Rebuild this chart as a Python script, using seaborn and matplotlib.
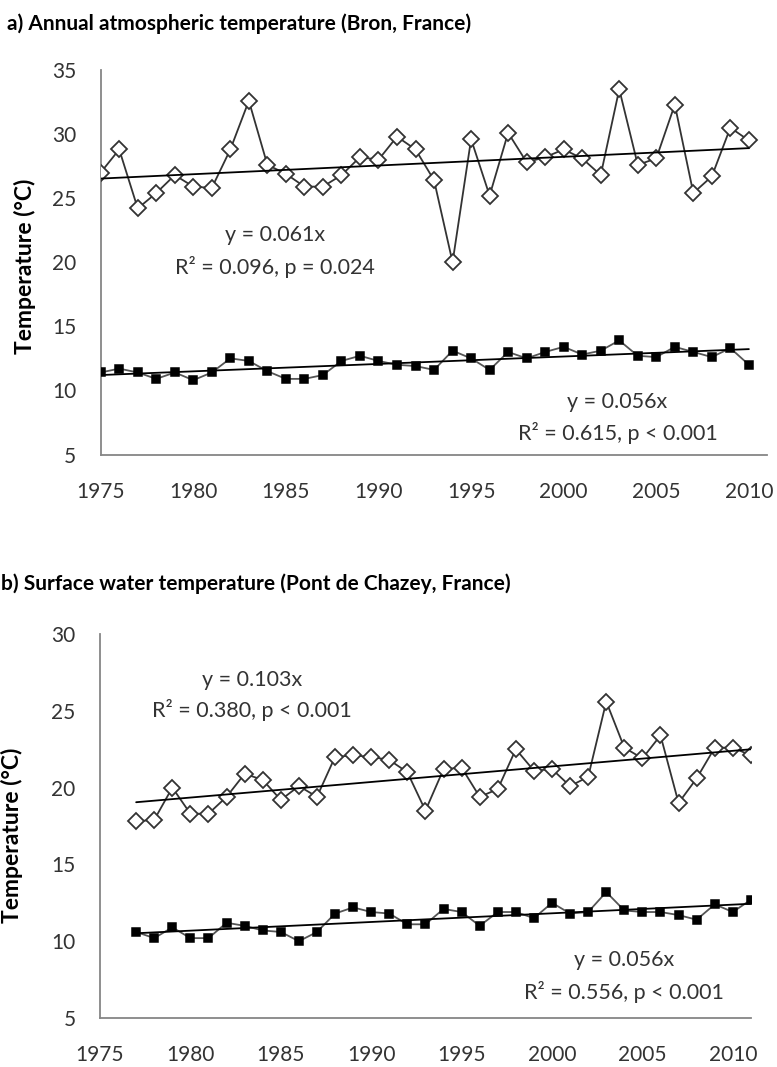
import numpy as np
import pandas as pd
import matplotlib
matplotlib.use("Agg")
import matplotlib.pyplot as plt
import seaborn as sns

# ---- data -------------------------------------------------------------
years_air = list(range(1975, 2011))
air_max = [27.0, 28.8, 24.2, 25.4, 26.8, 25.9, 25.8, 28.8, 32.6, 27.6,
           26.9, 25.9, 25.9, 26.8, 28.2, 28.0, 29.8, 28.8, 26.4, 20.0,
           29.6, 25.2, 30.1, 27.8, 28.2, 28.8, 28.1, 26.8, 33.5, 27.6,
           28.1, 32.3, 25.4, 26.7, 30.5, 29.5]
air_mean = [11.4, 11.7, 11.4, 10.9, 11.4, 10.8, 11.4, 12.5, 12.3, 11.5,
            10.9, 10.9, 11.2, 12.3, 12.7, 12.3, 12.0, 11.9, 11.6, 13.1,
            12.5, 11.6, 13.0, 12.5, 13.0, 13.4, 12.8, 13.1, 13.9, 12.7,
            12.6, 13.4, 13.0, 12.6, 13.3, 12.0]

years_water = list(range(1977, 2012))
water_max = [17.8, 17.9, 20.0, 18.3, 18.3, 19.4, 20.9, 20.5, 19.2, 20.1,
             19.4, 22.0, 22.1, 22.0, 21.8, 21.0, 18.5, 21.2, 21.3, 19.4,
             19.9, 22.5, 21.1, 21.2, 20.1, 20.7, 25.6, 22.6, 21.9, 23.4,
             19.0, 20.6, 22.6, 22.6, 22.1]
water_mean = [10.6, 10.2, 10.9, 10.2, 10.2, 11.2, 11.0, 10.7, 10.6, 10.0,
              10.6, 11.8, 12.2, 11.9, 11.8, 11.1, 11.1, 12.1, 11.9, 11.0,
              11.9, 11.9, 11.5, 12.5, 11.8, 11.9, 13.2, 12.0, 11.9, 11.9,
              11.7, 11.4, 12.4, 11.9, 12.7]

x_ticks = [1975, 1980, 1985, 1990, 1995, 2000, 2005, 2010]
y_ticks_air = [5, 10, 15, 20, 25, 30, 35]
y_ticks_water = [5, 10, 15, 20, 25, 30]

title_air = "a) Annual atmospheric temperature (Bron, France)"
title_water = "b) Surface water temperature (Pont de Chazey, France)"
y_label = "Temperature (°C)"
fit_air_max = ["y = 0.061x", "R² = 0.096, p = 0.024"]
fit_air_mean = ["y = 0.056x", "R² = 0.615, p < 0.001"]
fit_water_max = ["y = 0.103x", "R² = 0.380, p < 0.001"]
fit_water_mean = ["y = 0.056x", "R² = 0.556, p < 0.001"]

# ---- style ------------------------------------------------------------
sns.set_theme(style="white")
plt.rcParams["font.family"] = ["Lato", "DejaVu Sans"]

W, H = 777, 1067
fig = plt.figure(figsize=(W / 100, H / 100), dpi=100)

AXIS_GREY = "#868686"
TEXT_GREY = "#333333"


def px_axes(left, top, right, bottom):
    return fig.add_axes([left / W, 1 - bottom / H, (right - left) / W, (bottom - top) / H])


def draw_series(ax, years, values, marker, filled, size, line_color):
    df = pd.DataFrame({"year": years, "temp": values})
    sns.lineplot(data=df, x="year", y="temp", ax=ax, color=line_color, lw=1.3,
                 marker=marker, markersize=size,
                 markerfacecolor="black" if filled else "white",
                 markeredgecolor="black" if filled else "#333333",
                 markeredgewidth=1.1 if filled else 1.3, zorder=3)
    sns.regplot(data=df, x="year", y="temp", ax=ax, scatter=False, ci=None,
                truncate=True, line_kws=dict(color="black", lw=1.3, zorder=4))


def style_axes(ax, ylim, yticks, xlim):
    ax.set_xlim(*xlim)
    ax.set_ylim(*ylim)
    ax.set_xticks(x_ticks)
    ax.set_yticks(yticks)
    ax.set_xlabel("")
    ax.set_ylabel(y_label, fontsize=16.5, fontweight="bold", color="black")
    ax.yaxis.label.set_va("center")
    for side in ("top", "right"):
        ax.spines[side].set_visible(False)
    for side in ("left", "bottom"):
        ax.spines[side].set_color(AXIS_GREY)
        ax.spines[side].set_linewidth(1.3)
    ax.tick_params(axis="both", which="major", direction="out", length=5.5,
                   width=1.1, color=AXIS_GREY, labelsize=15, labelcolor=TEXT_GREY)
    ax.tick_params(axis="y", pad=12)
    ax.tick_params(axis="x", pad=14)
    ax.grid(False)


def annotate(ax, x, y1, y2, lines):
    ax.text(x, y1, lines[0], ha="center", va="center", fontsize=15.5, color=TEXT_GREY)
    ax.text(x, y2, lines[1], ha="center", va="center", fontsize=15.5, color=TEXT_GREY)


# ---- panel a: air temperature ------------------------------------------
ax_a = px_axes(100.7, 70, 767.4, 454.5)
draw_series(ax_a, years_air, air_max, "D", False, 8.5, "#333333")
draw_series(ax_a, years_air, air_mean, "s", True, 6, "#555555")
style_axes(ax_a, (5, 35), y_ticks_air, (1975, 2011))
ax_a.yaxis.set_label_coords(-0.113, 0.49)
annotate(ax_a, 1984.4, 22.1, 19.6, fit_air_max)
annotate(ax_a, 2002.9, 9.06, 6.64, fit_air_mean)
fig.text(7 / W, 1 - 24 / H, title_air, ha="left", va="center",
         fontsize=15, fontweight="bold", color="black")

# ---- panel b: surface water temperature ---------------------------------
ax_b = px_axes(100, 634, 750.9, 1018)
draw_series(ax_b, years_water, water_max, "D", False, 8.5, "#333333")
draw_series(ax_b, years_water, water_mean, "s", True, 6, "#555555")
style_axes(ax_b, (5, 30), y_ticks_water, (1975, 2011))
ax_b.yaxis.set_label_coords(-0.135, 0.475)
annotate(ax_b, 1983.4, 27.0, 25.05, fit_water_max)
annotate(ax_b, 2004.0, 8.79, 6.7, fit_water_mean)
fig.text(1 / W, 1 - 584 / H, title_water, ha="left", va="center",
         fontsize=15, fontweight="bold", color="black")

fig.savefig("out.png", dpi=100)
